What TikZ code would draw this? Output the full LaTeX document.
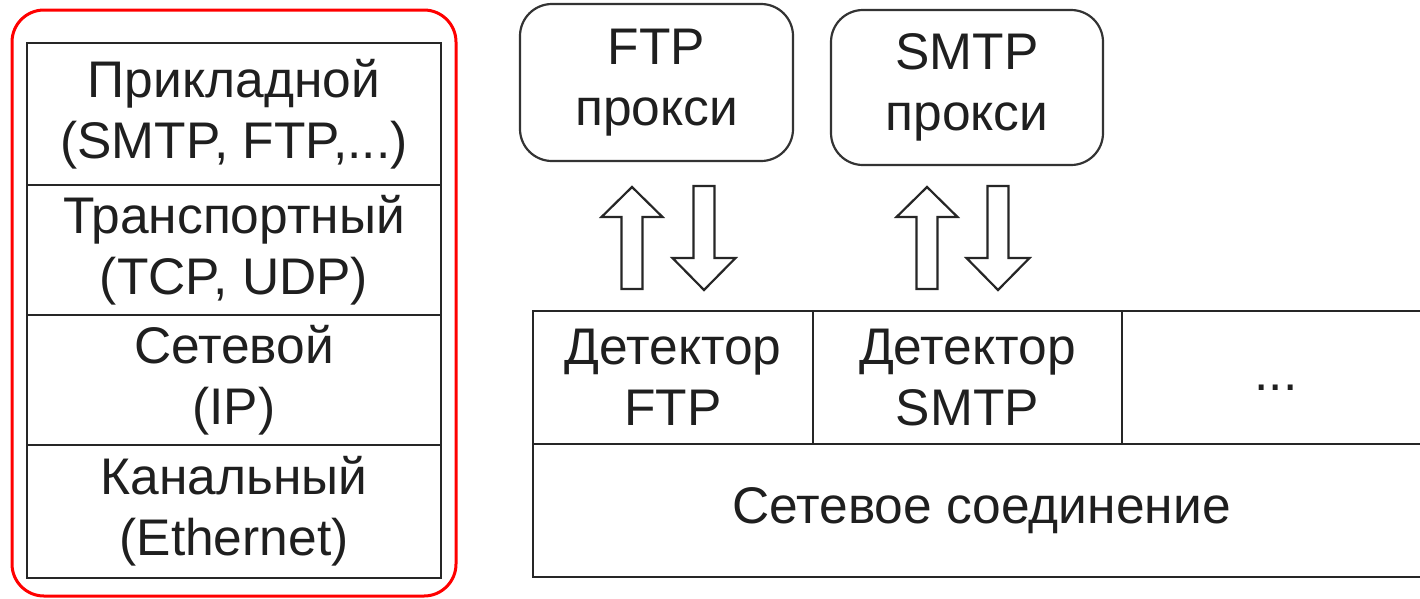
\documentclass[tikz,border=0pt]{standalone}
\usepackage{fontspec}
\setmainfont{Liberation Sans}
\begin{document}
\begin{tikzpicture}[x=1pt,y=-1pt,
  lbl/.style={font=\fontsize{51.5}{61}\selectfont, align=center, text=black!88},
  cell/.style={draw=black!85, line width=2.2pt, inner sep=0pt, lbl},
  proxy/.style={draw=black!80, line width=2.2pt, rounded corners=32pt, inner sep=0pt, lbl},
  frame/.style={draw=red, line width=3pt, rounded corners=32pt},
  blockarrow/.style={draw=black!85, line width=2.2pt, fill=white, line join=miter},
  uparrow/.pic={\draw[blockarrow] (0,187) -- (30.5,217) -- (10.5,217) -- (10.5,289)
      -- (-10.5,289) -- (-10.5,217) -- (-30.5,217) -- cycle;},
  downarrow/.pic={\draw[blockarrow] (-10.5,186) -- (10.5,186) -- (10.5,258) -- (31.5,258)
      -- (0,290) -- (-31.5,258) -- (-10.5,258) -- cycle;}]
\useasboundingbox (0,0) rectangle (1420,598);

% protocol stack inside the red frame
\draw[frame] (12,10) rectangle (456,596);
\node[cell, minimum width=414, minimum height=142] (app) at (234,114) {Прикладной\\(SMTP, FTP,...)};
\node[cell, minimum width=414, minimum height=130] (tr)  at (234,250) {Транспортный\\(TCP, UDP)};
\node[cell, minimum width=414, minimum height=130] (net) at (234,380) {Сетевой\\(IP)};
\node[cell, minimum width=414, minimum height=133] (link) at (234,511.5) {Канальный\\(Ethernet)};

% proxies
\node[proxy, minimum width=273, minimum height=157] (ftpp)  at (656.5,82.5) {FTP\\прокси};
\node[proxy, minimum width=272, minimum height=155] (smtpp) at (967,87.5) {SMTP\\прокси};

% detectors and network connection (running past the right edge)
\node[cell, minimum width=280, minimum height=133] (dftp)  at (673,377.5) {Детектор\\FTP};
\node[cell, minimum width=309, minimum height=133] (dsmtp) at (967.5,377.5) {Детектор\\SMTP};
\node[cell, minimum width=308, minimum height=133] (dmore) at (1276,377.5) {};
\node[lbl, inner sep=0pt] (dots) at (1276,388) {...};
\node[cell, minimum width=897, minimum height=133] (conn)  at (981.5,510.5) {Сетевое соединение};

% data flow between detectors and proxies
\pic at (632,0) {uparrow};
\pic at (704,0) {downarrow};
\pic at (927,0) {uparrow};
\pic at (998,0) {downarrow};
\end{tikzpicture}
\end{document}
